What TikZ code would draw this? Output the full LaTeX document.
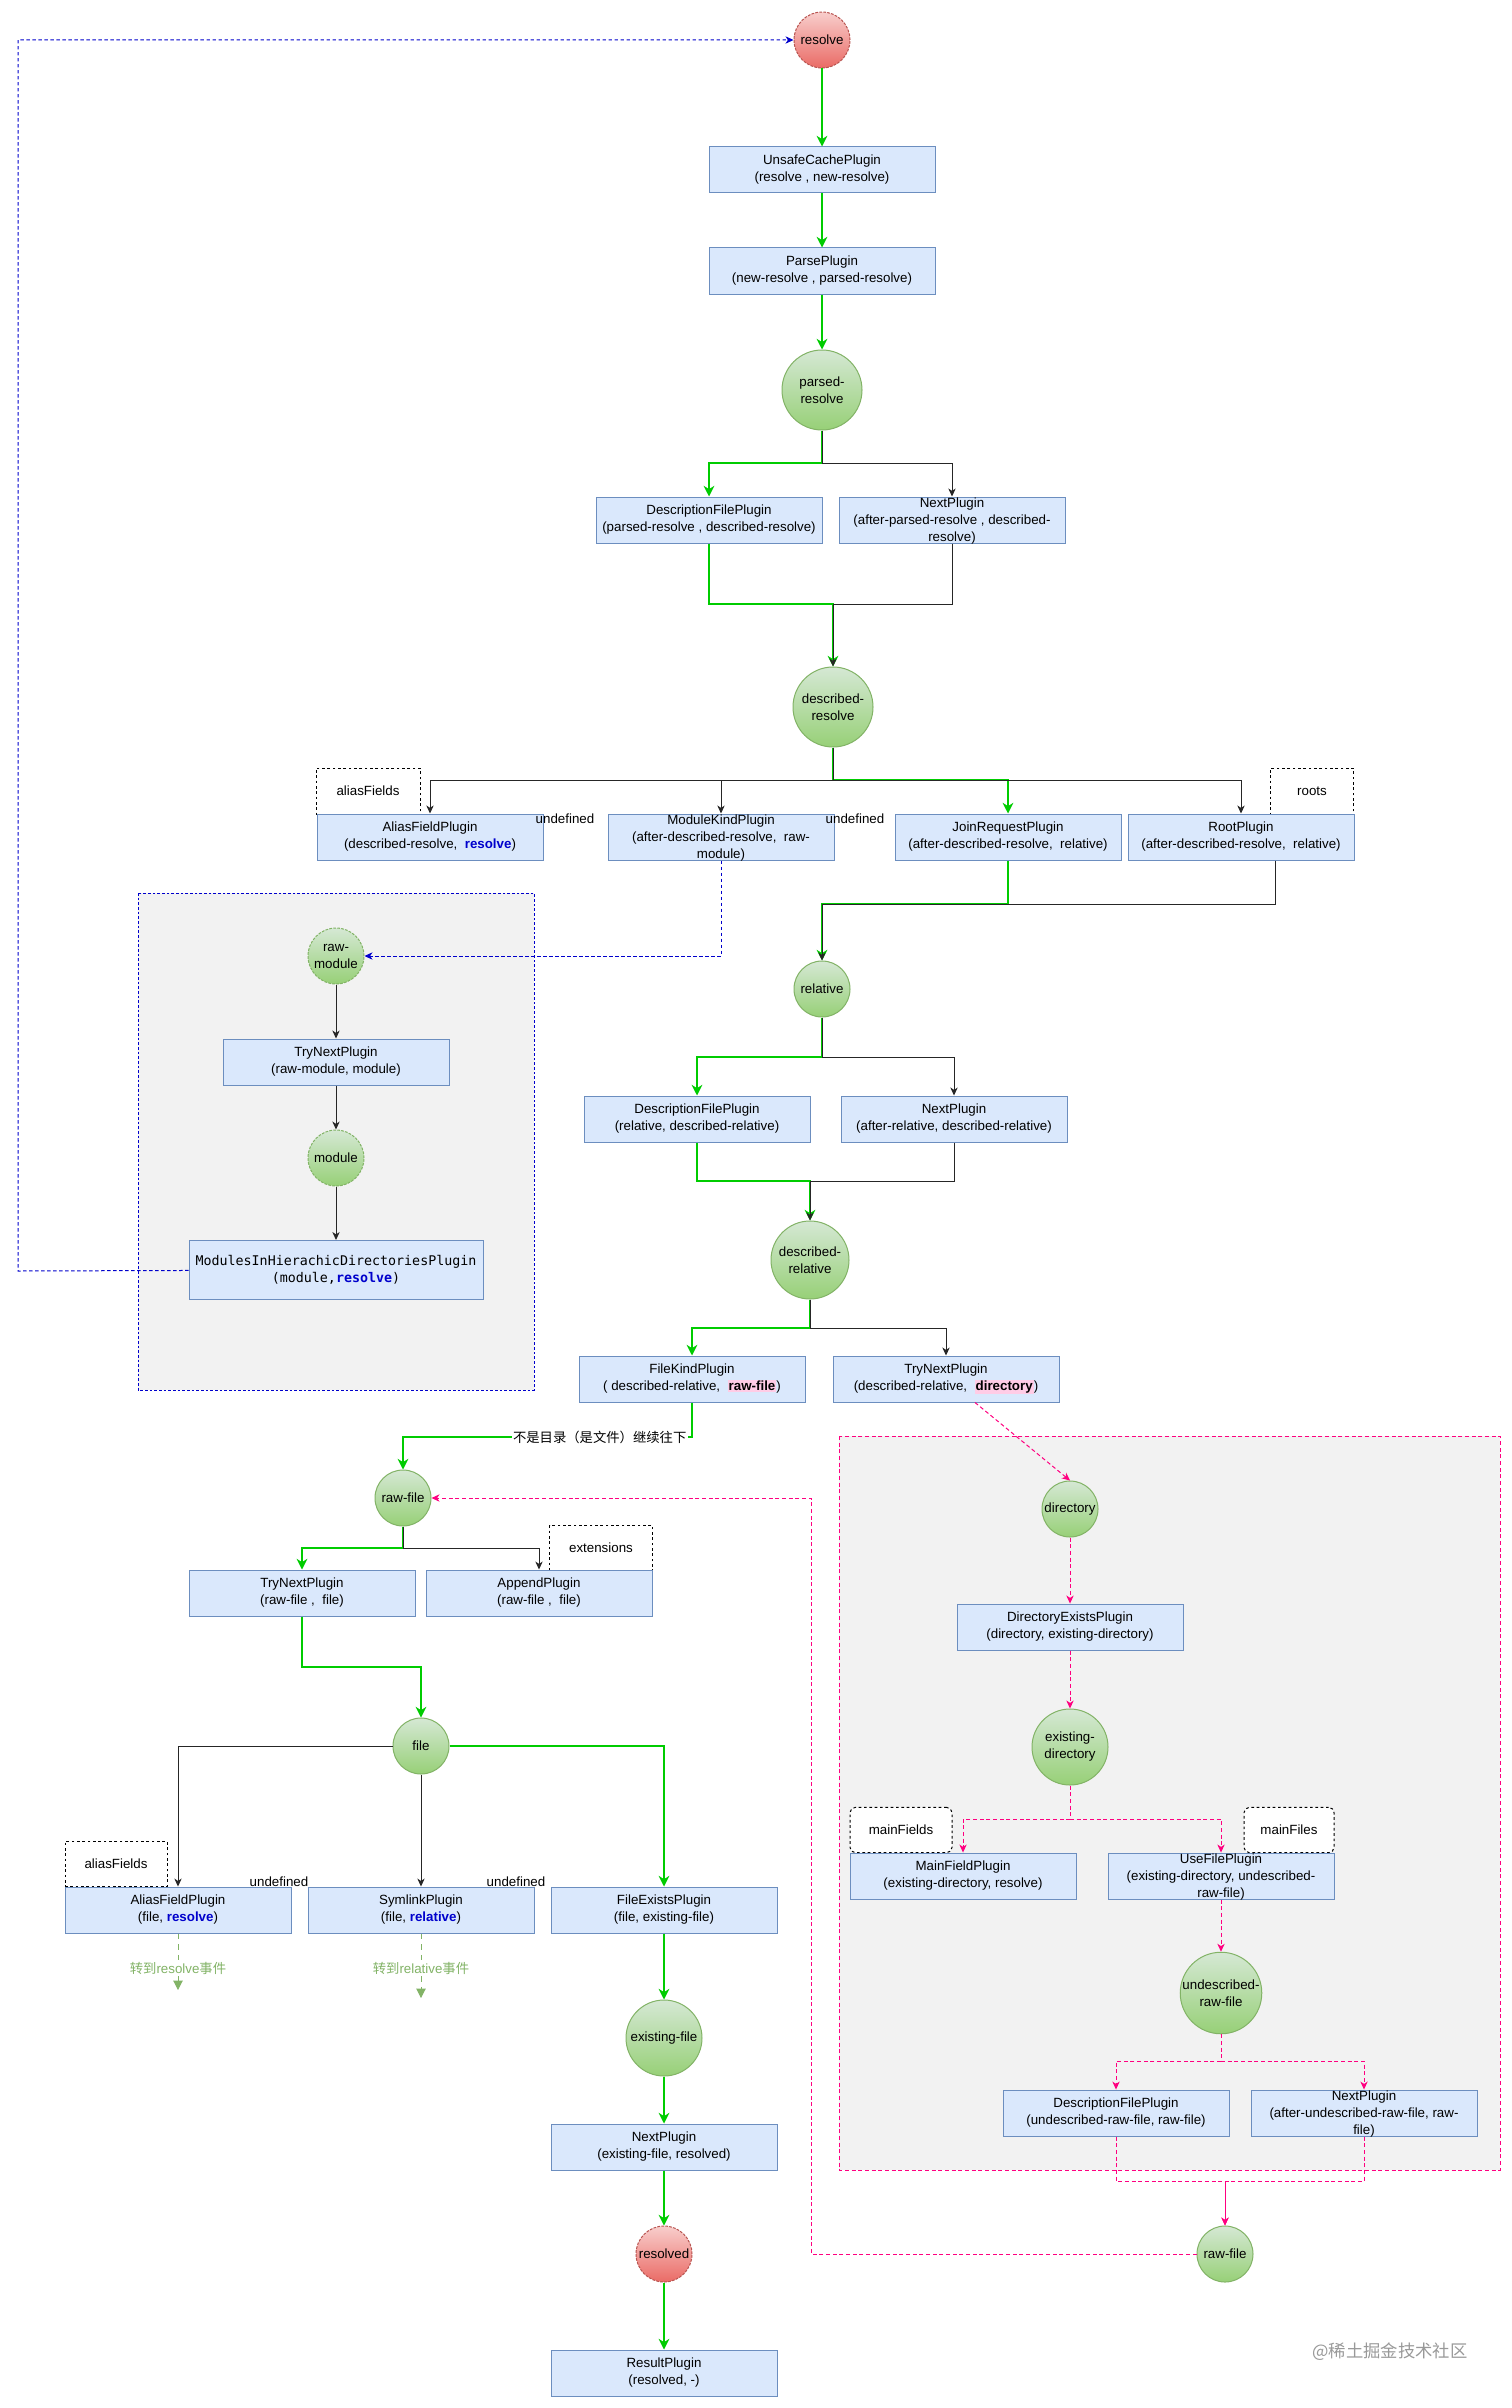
\documentclass[tikz,border=0pt]{standalone}
\usepackage{fontspec}
\setmainfont{Liberation Sans}
\newfontfamily\cjk{Noto Sans CJK SC}
\newfontfamily\codefont{DejaVu Sans Mono}
\usetikzlibrary{arrows.meta}
\definecolor{boxfill}{HTML}{DAE8FC}
\definecolor{boxline}{HTML}{6C8EBF}
\definecolor{hooktop}{HTML}{D5E8D4}
\definecolor{hookbot}{HTML}{97D077}
\definecolor{hookline}{HTML}{82B366}
\definecolor{endtop}{HTML}{F8CECC}
\definecolor{endbot}{HTML}{EA6B66}
\definecolor{endline}{HTML}{B85450}
\definecolor{flowgreen}{HTML}{00CC00}
\definecolor{dirpink}{HTML}{FF0080}
\definecolor{modblue}{HTML}{0000CC}
\definecolor{groupfill}{HTML}{F2F2F2}
\definecolor{hlpink}{HTML}{FFCCE6}
\definecolor{notegreen}{HTML}{82B366}
\newcommand\nodefont{\fontsize{10pt}{12.75pt}\selectfont}
\newcommand\evt[1]{\textbf{\textcolor{modblue}{#1}}}
\newcommand\hlt[1]{{\setlength\fboxsep{0.8pt}\colorbox{hlpink}{\textbf{#1}}}}
\tikzset{
  plugin/.style={draw=boxline, fill=boxfill, line width=0.75pt, minimum width=169.5pt,
    minimum height=34.5pt, inner sep=1pt, align=center},
  wrapped/.style={inner ysep=0pt, text height=33.6pt, text depth=0.9pt},
  hook/.style={circle, draw=hookline, top color=hooktop, bottom color=hookbot,
    line width=0.75pt, minimum size=42pt, inner sep=0pt, align=center},
  bighook/.style={hook, minimum size=60pt},
  midhook/.style={hook, minimum size=57pt},
  endhook/.style={hook, draw=endline, top color=endtop, bottom color=endbot,
    dash pattern=on 2pt off 1pt},
  opt/.style={draw=black, fill=white, dash pattern=on 2pt off 2pt, line width=0.75pt,
    inner sep=0pt},
  gflow/.style={draw=flowgreen, line width=1.5pt,
    -{Stealth[length=8pt, width=8pt, inset=2.5pt]}},
  bflow/.style={draw=black!85, line width=0.75pt,
    -{Stealth[length=6pt, width=5.5pt, inset=1.8pt]}},
  pflow/.style={draw=dirpink, line width=0.75pt, dash pattern=on 3pt off 2pt,
    -{Stealth[length=6pt, width=5.5pt, inset=1.8pt]}},
  mflow/.style={draw=modblue, line width=0.75pt, dash pattern=on 2.5pt off 2pt,
    -{Stealth[length=6pt, width=5.5pt, inset=1.8pt]}},
  nflow/.style={draw=notegreen, line width=0.75pt, dash pattern=on 4pt off 4pt,
    -{Triangle[length=7pt, width=7pt]}},
  note/.style={fill=white, text=notegreen, inner sep=1pt}
}
\begin{document}
\begin{tikzpicture}[x=0.75pt, y=-0.75pt, font=\nodefont]
\useasboundingbox (0,0) rectangle (1512,2408);
\fill[white] (0,0) rectangle (1512,2408);

\draw[modblue, line width=0.75pt, dash pattern=on 2pt off 1.5pt, fill=groupfill] (138,893) rectangle (534,1390);
\draw[dirpink, line width=0.75pt, dash pattern=on 3pt off 2pt, fill=groupfill] (839,1436) rectangle (1500,2170);

\draw (822,40) node[endhook](resolve){resolve}
  (822,170) node[plugin](unsafe){UnsafeCachePlugin\\(resolve , new-resolve)}
  (822,271) node[plugin](parse){ParsePlugin\\(new-resolve , parsed-resolve)}
  (822,390) node[bighook](parsedres){parsed-\\resolve}
  (709,520) node[plugin](descfilea){DescriptionFilePlugin\\(parsed-resolve , described-resolve)}
  (952,520) node[plugin, wrapped](nexta){NextPlugin\\(after-parsed-resolve , described-\\resolve)}
  (833,707) node[bighook](describedres){described-\\resolve};

\draw (368,791) node[opt, minimum width=78pt, minimum height=34.5pt](optalias){aliasFields}
  (1312,791) node[opt, minimum width=62pt, minimum height=34.5pt](optroots){roots}
  (430,837) node[plugin](aliasa){AliasFieldPlugin\\(described-resolve,\ \ \evt{resolve})}
  (721,837) node[plugin, wrapped](modkind){ModuleKindPlugin\\(after-described-resolve,\ \ raw-\\module)}
  (1008,837) node[plugin](joinreq){JoinRequestPlugin\\(after-described-resolve,\ \ relative)}
  (1241,837) node[plugin](rootp){RootPlugin\\(after-described-resolve,\ \ relative)};

\draw (336,956) node[hook, dash pattern=on 2pt off 1pt](rawmodule){raw-\\module}
  (336,1062) node[plugin](trynextm){TryNextPlugin\\(raw-module, module)}
  (336,1158) node[hook, dash pattern=on 2pt off 1pt](module){module}
  (336,1270) node[plugin, minimum width=220.5pt, minimum height=44.25pt, font=\codefont\nodefont](modules){ModulesInHierachicDirectoriesPlugin\\(module,\evt{resolve})};

\draw (822,989) node[hook](relative){relative}
  (697,1119) node[plugin](descfileb){DescriptionFilePlugin\\(relative, described-relative)}
  (954,1119) node[plugin](nextb){NextPlugin\\(after-relative, described-relative)}
  (810,1260) node[midhook, minimum size=58.5pt](describedrel){described-\\relative}
  (692,1379) node[plugin](filekind){FileKindPlugin\\( described-relative,\ \ \hlt{raw-file})}
  (946,1379) node[plugin](trynexta){TryNextPlugin\\(described-relative,\ \ \hlt{directory})};

\draw (403,1498) node[hook](rawfile){raw-file}
  (601,1548) node[opt, minimum width=77pt, minimum height=34pt](optext){extensions}
  (302,1593) node[plugin](trynextb){TryNextPlugin\\(raw-file ,\ \ file)}
  (539,1593) node[plugin](append){AppendPlugin\\(raw-file ,\ \ file)}
  (421,1746) node[hook](file){file}
  (116,1864) node[opt, minimum width=76.5pt, minimum height=34pt](optalias2){aliasFields}
  (178,1910) node[plugin](aliasb){AliasFieldPlugin\\(file, \evt{resolve})}
  (421,1910) node[plugin](symlink){SymlinkPlugin\\(file, \evt{relative})}
  (664,1910) node[plugin](fileexists){FileExistsPlugin\\(file, existing-file)}
  (664,2038) node[midhook](existfile){existing-file}
  (664,2147) node[plugin](nextc){NextPlugin\\(existing-file, resolved)}
  (664,2254) node[endhook](resolved){resolved}
  (664,2373) node[plugin](result){ResultPlugin\\(resolved, -)};

\draw (1070,1509) node[hook](directory){directory}
  (1070,1627) node[plugin](direxists){DirectoryExistsPlugin\\(directory, existing-directory)}
  (1070,1747) node[midhook](existdir){existing-\\directory}
  (901,1830) node[opt, rounded corners=4pt, minimum width=76.5pt, minimum height=34pt](optmain){mainFields}
  (1289,1830) node[opt, rounded corners=4pt, minimum width=67.5pt, minimum height=34pt](optfiles){mainFiles}
  (963,1876) node[plugin](mainfield){MainFieldPlugin\\(existing-directory, resolve)}
  (1221,1876) node[plugin, wrapped](usefile){UseFilePlugin\\(existing-directory, undescribed-\\raw-file)}
  (1221,1993) node[midhook](undescribed){undescribed-\\raw-file}
  (1116,2113) node[plugin](descfilec){DescriptionFilePlugin\\(undescribed-raw-file, raw-file)}
  (1364,2113) node[plugin, wrapped](nextd){NextPlugin\\(after-undescribed-raw-file, raw-\\file)}
  (1225,2254) node[hook](rawfile2){raw-file};

\coordinate (b1) at (822,463);
\coordinate (m1) at (833,604);
\coordinate (b2) at (833,780);
\coordinate (m2) at (822,904);
\coordinate (b3) at (822,1057);
\coordinate (m3) at (810,1181);
\coordinate (b4) at (810,1328);
\coordinate (c3) at (403,1437);
\coordinate (b5) at (403,1548);
\coordinate (c5) at (421,1667);
\coordinate (b6) at (1070,1819);
\coordinate (b7) at (1221,2061);
\coordinate (m8) at (1225,2181);
\coordinate (r1) at (811,1498);
\coordinate (r2) at (18,1271);
\coordinate (g1) at (178,1990);
\coordinate (g2) at (421,1998);

\draw[gflow] (resolve) -- (unsafe);
\draw[gflow] (unsafe) -- (parse);
\draw[gflow] (parse) -- (parsedres);
\draw[gflow] (parsedres) -- (b1) -| (descfilea);
\draw[bflow] (parsedres) -- (b1) -| (nexta);
\draw[gflow] (descfilea) |- (m1) -- (describedres);
\draw[bflow] (nexta) |- (m1) -- (describedres);
\draw[gflow] (describedres) -- (b2) -| (joinreq);
\draw[bflow] (describedres) -- (b2) -| (aliasa);
\draw[bflow] (b2) -| (modkind);
\draw[bflow] (b2) -| (rootp);
\draw[gflow] (joinreq) |- (m2) -- (relative);
\draw[bflow] ([xshift=25.5pt]rootp.south) |- (m2) -- (relative);
\draw[gflow] (relative) -- (b3) -| (descfileb);
\draw[bflow] (relative) -- (b3) -| (nextb);
\draw[gflow] (descfileb) |- (m3) -- (describedrel);
\draw[bflow] (nextb) |- (m3) -- (describedrel);
\draw[gflow] (describedrel) -- (b4) -| (filekind);
\draw[bflow] (describedrel) -- (b4) -| (trynexta);
\draw[gflow] (filekind) |- (c3) -- (rawfile);
\draw[gflow] (rawfile) -- (b5) -| (trynextb);
\draw[bflow] (rawfile) -- (b5) -| (append);
\draw[gflow] (trynextb) |- (c5) -- (file);
\draw[bflow] (file) -| (aliasb);
\draw[bflow] (file) -- (symlink);
\draw[gflow] (file) -| (fileexists);
\draw[gflow] (fileexists) -- (existfile);
\draw[gflow] (existfile) -- (nextc);
\draw[gflow] (nextc) -- (resolved);
\draw[gflow] (resolved) -- (result);

\draw[bflow] (rawmodule) -- (trynextm);
\draw[bflow] (trynextm) -- (module);
\draw[bflow] (module) -- (modules);
\draw[mflow] (modkind) |- (rawmodule);
\draw[mflow] (modules) -- (r2) |- (resolve);

\draw[pflow] ([xshift=21.75pt]trynexta.south) -- (directory.north);
\draw[pflow] (directory) -- (direxists);
\draw[pflow] (direxists) -- (existdir);
\draw[pflow] (existdir) -- (b6) -| (mainfield);
\draw[pflow] (b6) -| (usefile);
\draw[pflow] (usefile) -- (undescribed);
\draw[pflow] (undescribed) -- (b7) -| (descfilec);
\draw[pflow] (b7) -| (nextd);
\draw[pflow] (descfilec) |- (m8) -- (rawfile2);
\draw[pflow] (nextd) |- (m8) -- (rawfile2);
\draw[pflow] (rawfile2) -| (r1) -- (rawfile);

\draw[nflow] (aliasb) -- (g1);
\draw[nflow] (symlink) -- (g2);
\node[note] (gonote1) at (178,1968) {{\cjk 转到}resolve{\cjk 事件}};
\node[note] (gonote2) at (421,1968) {{\cjk 转到}relative{\cjk 事件}};

\node[fill=white, inner sep=1pt, anchor=east] (notdir) at (688,1437) {\cjk 不是目录（是文件）继续往下};
\node[inner sep=0pt] (undef1) at (565,819) {undefined};
\node[inner sep=0pt] (undef2) at (855,819) {undefined};
\node[inner sep=0pt] (undef3) at (279,1882) {undefined};
\node[inner sep=0pt] (undef4) at (516,1882) {undefined};

\node[text=black!40, font=\cjk\fontsize{13pt}{15pt}\selectfont] (mark) at (1390,2352) {@稀土掘金技术社区};
\end{tikzpicture}
\end{document}
